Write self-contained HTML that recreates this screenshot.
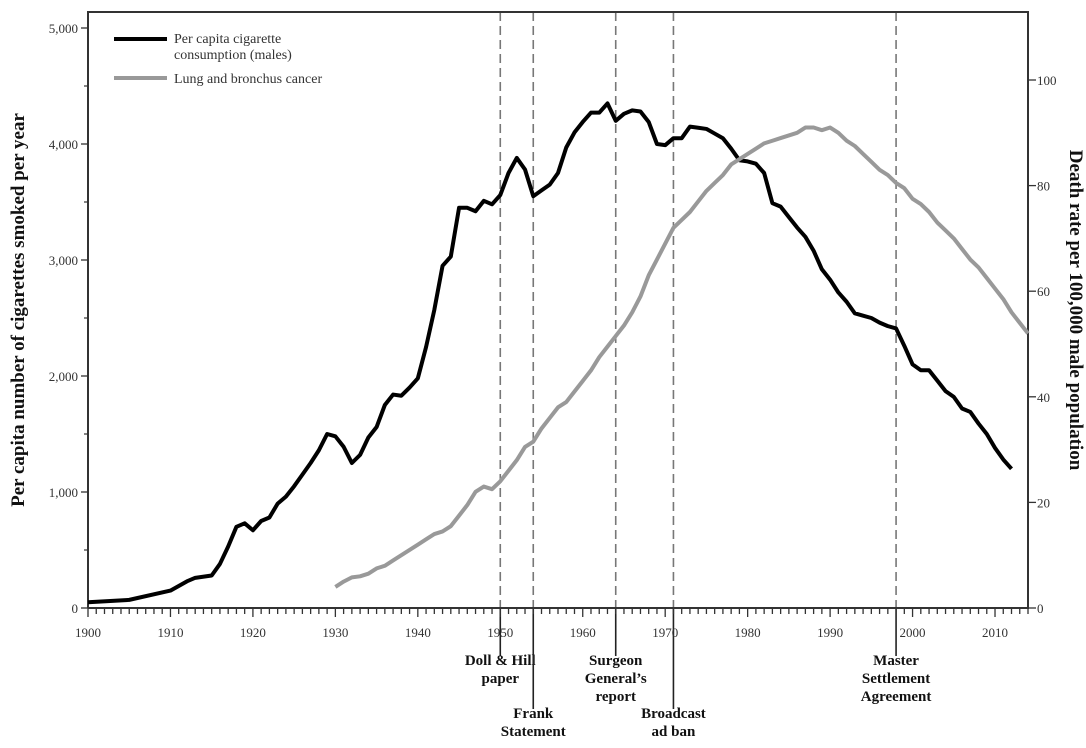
<!DOCTYPE html>
<html><head><meta charset="utf-8"><style>
body{margin:0;background:#fff}
svg{font-family:"Liberation Serif",serif}
</style></head><body>
<svg id="c" width="1086" height="743" viewBox="0 0 1086 743"></svg>
<script>
const cigYears=[1900,1905,1910,1912,1913,1915,1916,1917,1918,1919,1920,1921,1922,1923,1924,1925,1926,1927,1928,1929,1930,1931,1932,1933,1934,1935,1936,1937,1938,1939,1940,1941,1942,1943,1944,1945,1946,1947,1948,1949,1950,1951,1952,1953,1954,1955,1956,1957,1958,1959,1960,1961,1962,1963,1964,1965,1966,1967,1968,1969,1970,1971,1972,1973,1974,1975,1976,1977,1978,1979,1980,1981,1982,1983,1984,1985,1986,1987,1988,1989,1990,1991,1992,1993,1994,1995,1996,1997,1998,1999,2000,2001,2002,2003,2004,2005,2006,2007,2008,2009,2010,2011,2012];
const cigValues=[50,70,150,230,260,280,380,530,700,730,670,750,780,900,960,1050,1150,1250,1360,1500,1480,1390,1250,1320,1470,1560,1750,1840,1830,1900,1980,2250,2570,2950,3030,3450,3450,3420,3510,3480,3560,3750,3880,3780,3550,3600,3650,3750,3970,4100,4190,4270,4270,4350,4200,4260,4290,4280,4190,4000,3990,4050,4050,4150,4140,4130,4090,4050,3960,3860,3850,3830,3750,3490,3460,3370,3280,3200,3080,2920,2830,2720,2640,2540,2520,2500,2460,2430,2410,2260,2100,2050,2050,1960,1870,1820,1720,1690,1590,1500,1380,1280,1200];
const lungYears=[1930,1931,1932,1933,1934,1935,1936,1937,1938,1939,1940,1941,1942,1943,1944,1945,1946,1947,1948,1949,1950,1951,1952,1953,1954,1955,1956,1957,1958,1959,1960,1961,1962,1963,1964,1965,1966,1967,1968,1969,1970,1971,1972,1973,1974,1975,1976,1977,1978,1979,1980,1981,1982,1983,1984,1985,1986,1987,1988,1989,1990,1991,1992,1993,1994,1995,1996,1997,1998,1999,2000,2001,2002,2003,2004,2005,2006,2007,2008,2009,2010,2011,2012,2013,2014];
const lungValues=[4,5,5.8,6,6.5,7.5,8,9,10,11,12,13,14,14.5,15.5,17.5,19.5,22,23,22.5,24,26,28,30.5,31.5,34,36,38,39,41,43,45,47.5,49.5,51.5,53.5,56,59,63,66,69,72,73.5,75,77,79,80.5,82,84,85,86,87,88,88.5,89,89.5,90,91,91,90.5,91,90,88.5,87.5,86,84.5,83,82,80.5,79.5,77.5,76.5,75,73,71.5,70,68,66,64.5,62.5,60.5,58.5,56,54,52];
const leftTicks=[0,1000,2000,3000,4000,5000];
const leftTickLabels=["0","1,000","2,000","3,000","4,000","5,000"];
const rightTicks=[0,20,40,60,80,100];
const xTicks=[1900,1910,1920,1930,1940,1950,1960,1970,1980,1990,2000,2010];
const eventYears=[1950,1954,1964,1971,1998];
const eventLabels=[["Doll & Hill","paper"],["Frank","Statement"],["Surgeon","General’s","report"],["Broadcast","ad ban"],["Master","Settlement","Agreement"]];
const eventLow=[false,true,false,true,false];

const L=88,R=1028,T=12,B=608;
const x=y=>L+(y-1900)*(R-L)/114;
const yl=v=>B-v*0.116;
const yr=v=>B-v*5.28;
const svg=document.getElementById('c');
const NS='http://www.w3.org/2000/svg';
function mk(t,a,p){const e=document.createElementNS(NS,t);for(const k in a)e.setAttribute(k,a[k]);(p||svg).appendChild(e);return e;}

eventYears.forEach((yr_,i)=>{
  const g=mk('g',{});
  
  
  const X=x(yr_);
  mk('line',{x1:X,y1:T,x2:X,y2:B,stroke:'#777','stroke-width':1.6,'stroke-dasharray':'9,5'},g);
  const top=eventLow[i]?712:659;
  mk('line',{x1:X,y1:B,x2:X,y2:top-3,stroke:'#222','stroke-width':1.6},g);
  eventLabels[i].forEach((s,j)=>{
    const t=mk('text',{x:X,y:top+6+j*18,'text-anchor':'middle','font-size':15,'font-weight':'bold',fill:'#111'},g);
    t.textContent=s;
  });
});

const frame=mk('path',{d:`M${L},${B}V${T}H${R}V${B}H${L}`,fill:'none',stroke:'#333','stroke-width':2});


for(let yy=1900;yy<=2014;yy++){const X=x(yy);mk('line',{x1:X,y1:B,x2:X,y2:B+(yy%10===0?9:6),stroke:'#333','stroke-width':1.3});}
xTicks.forEach(v=>{const t=mk('text',{x:x(v),y:B+29,'text-anchor':'middle','font-size':13,fill:'#333'});t.textContent=v;});
leftTicks.forEach((v,i)=>{mk('line',{x1:L-7,y1:yl(v),x2:L,y2:yl(v),stroke:'#333','stroke-width':1.3});const t=mk('text',{x:L-10,y:yl(v)+5,'text-anchor':'end','font-size':13,fill:'#333'});t.textContent=leftTickLabels[i];});
[500,1500,2500,3500,4500].forEach(v=>mk('line',{x1:L-4,y1:yl(v),x2:L,y2:yl(v),stroke:'#333','stroke-width':1.2}));
rightTicks.forEach(v=>{mk('line',{x1:R,y1:yr(v),x2:R+8,y2:yr(v),stroke:'#333','stroke-width':1.3});const t=mk('text',{x:R+9,y:yr(v)+5,'font-size':13,fill:'#333'});t.textContent=v;});

const pc=mk('polyline',{points:cigYears.map((v,i)=>x(v)+','+yl(cigValues[i])).join(' '),fill:'none',stroke:'#000','stroke-width':4,'stroke-linejoin':'round'});


const lc=mk('polyline',{points:lungYears.map((v,i)=>x(v)+','+yr(lungValues[i])).join(' '),fill:'none',stroke:'#999','stroke-width':4,'stroke-linejoin':'round'});



const lt=mk('text',{transform:'translate(24,310) rotate(-90)','text-anchor':'middle','font-size':19,'font-weight':'bold',fill:'#111'});


lt.textContent='Per capita number of cigarettes smoked per year';
const rt=mk('text',{transform:'translate(1070,310) rotate(90)','text-anchor':'middle','font-size':19,'font-weight':'bold',fill:'#111'});


rt.textContent='Death rate per 100,000 male population';

const lg=mk('g',{});


mk('line',{x1:114,y1:39,x2:167,y2:39,stroke:'#000','stroke-width':4},lg);
mk('line',{x1:114,y1:78,x2:167,y2:78,stroke:'#999','stroke-width':4},lg);
[['Per capita cigarette',43],['consumption (males)',59],['Lung and bronchus cancer',83]].forEach(a=>{const t=mk('text',{x:174,y:a[1],'font-size':14,fill:'#333'},lg);t.textContent=a[0];});
</script>
</body></html>
